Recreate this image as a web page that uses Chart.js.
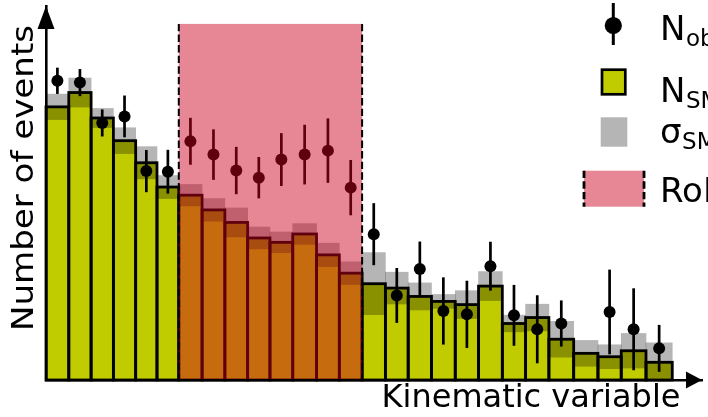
<!DOCTYPE html>
<html>
<head>
<meta charset="utf-8">
<script src="https://cdn.jsdelivr.net/npm/chart.js@4.4.1/dist/chart.umd.min.js"></script>
<style>
  html, body { margin: 0; padding: 0; background: #ffffff; }
  #wrap { position: relative; width: 708px; height: 417px; overflow: hidden; }
</style>
</head>
<body>
<div id="wrap"><canvas id="c" width="708" height="417"></canvas></div>
<script>
// Bin edges of the kinematic variable (27 bins)
const binEdges = [0, 2.3, 4.55, 6.8, 9.05, 11.2, 13.4, 15.75, 18.05, 20.35, 22.6, 24.9, 27.3, 29.6,
                  31.9, 34.25, 36.55, 38.9, 41.3, 43.65, 46.05, 48.4, 50.75, 53.25, 55.7, 58.05, 60.55, 63.2];
// Expected Standard Model yield per bin
const nSM = [137.3, 144.5, 131.7, 120.3, 109.2, 97, 92.9, 85.5, 79.2, 71.4, 69.2, 73.4, 62.9, 53.7,
             48.4, 46.2, 42, 39.5, 37.9, 47.2, 28.4, 31.4, 20.5, 13.4, 11.7, 14.7, 8.9];
// Uncertainty on the SM yield
const sigmaSM = [6.4, 7.3, 4.8, 6.5, 8.1, 5.8, 5.4, 5.7, 7.3, 5.5, 5.2, 5.2, 5.9, 5.7,
                 15.6, 8, 6.8, 3.5, 7, 7.3, 4.2, 6.7, 9, 6.5, 6, 8.7, 9.8];
// Observed counts and their errors (no entry in bin 24)
const nObs = [150.4, 149.5, 129.2, 132.5, 105, 104.7, 120, 113.3, 105.3, 101.7, 110.8, 113.3, 115.3, 96.7,
              73.3, 42.5, 55.8, 34.7, 33, 57.2, 32.5, 25.5, 28.4, null, 34.2, 25.5, 15.9];
const nObsErr = [6.6, 6.8, 6.8, 10.5, 10.6, 11, 11.8, 12.7, 11.9, 10.4, 13.3, 15, 16.2, 13.9,
                 15.6, 13.8, 13.8, 16.9, 16.9, 12.3, 15.3, 17.1, 11.6, null, 21.3, 20.6, 11.8];
// Region of interest along the kinematic variable, and its height
const roiRange = [13.4, 31.9];
const roiTop = 179;
// Axis extents
const xMax = 66.2;
const yMax = 188;

const GREEN = '#c1cc00';
const BAND = 'rgba(0,0,0,0.29)';
const ROI_FILL = 'rgba(205,0,32,0.47)';
const FONT = '"DejaVu Sans", sans-serif';

const centers = nSM.map((_, i) => (binEdges[i] + binEdges[i + 1]) / 2);

// Give every bar the exact width of its bin
const binWidths = {
  id: 'binWidths',
  afterDatasetsUpdate(chart) {
    const xs = chart.scales.x;
    chart.data.datasets.forEach((ds, di) => {
      const meta = chart.getDatasetMeta(di);
      if (meta.type !== 'bar') return;
      meta.data.forEach((el, i) => {
        const l = xs.getPixelForValue(binEdges[i]);
        const r = xs.getPixelForValue(binEdges[i + 1]);
        el.x = (l + r) / 2;
        el.width = r - l;
      });
    });
  }
};

// Black bin outlines after the uncertainty band, error bars before the markers
const histDecor = {
  id: 'histDecor',
  afterDatasetDraw(chart, args) {
    if (args.index !== 1) return;
    const ctx = chart.ctx;
    const meta = chart.getDatasetMeta(0);
    ctx.save();
    ctx.strokeStyle = '#000';
    ctx.lineWidth = 2.8;
    ctx.lineJoin = 'miter';
    meta.data.forEach(el => {
      ctx.strokeRect(el.x - el.width / 2, el.y, el.width, el.base - el.y);
    });
    ctx.restore();
  },
  beforeDatasetDraw(chart, args) {
    if (args.index !== 2) return;
    const ctx = chart.ctx;
    const xs = chart.scales.x, ys = chart.scales.y;
    ctx.save();
    ctx.strokeStyle = '#000';
    ctx.lineWidth = 2.7;
    nObs.forEach((v, i) => {
      if (v === null) return;
      const x = xs.getPixelForValue(centers[i]);
      ctx.beginPath();
      ctx.moveTo(x, ys.getPixelForValue(v + nObsErr[i]));
      ctx.lineTo(x, ys.getPixelForValue(v - nObsErr[i]));
      ctx.stroke();
    });
    ctx.restore();
  },
  afterDatasetsDraw(chart) {
    const ctx = chart.ctx;
    const xs = chart.scales.x, ys = chart.scales.y;
    const l = xs.getPixelForValue(roiRange[0]);
    const r = xs.getPixelForValue(roiRange[1]);
    const t = ys.getPixelForValue(roiTop);
    const b = ys.getPixelForValue(0);
    ctx.save();
    ctx.fillStyle = ROI_FILL;
    ctx.fillRect(l, t, r - l, b - t);
    ctx.strokeStyle = '#000';
    ctx.lineWidth = 2;
    ctx.setLineDash([7.4, 3.2]);
    [l, r].forEach(x => {
      ctx.beginPath();
      ctx.moveTo(x, t);
      ctx.lineTo(x, b);
      ctx.stroke();
    });
    ctx.restore();
  }
};

function fitText(ctx, text, cx, cy, angle, size, targetLen) {
  ctx.save();
  ctx.font = size + 'px ' + FONT;
  const w = ctx.measureText(text).width;
  ctx.translate(cx, cy);
  ctx.rotate(angle);
  ctx.scale(targetLen / w, 1);
  ctx.textAlign = 'center';
  ctx.textBaseline = 'alphabetic';
  ctx.fillStyle = '#000';
  ctx.fillText(text, 0, 0);
  ctx.restore();
}

function labelWithSub(ctx, main, sub, x, y) {
  ctx.font = '34px ' + FONT;
  ctx.textAlign = 'left';
  ctx.textBaseline = 'alphabetic';
  ctx.fillStyle = '#000';
  ctx.fillText(main, x, y);
  const w = ctx.measureText(main).width;
  if (sub) {
    ctx.font = '23px ' + FONT;
    ctx.fillText(sub, x + w + 0.5, y + 6);
  }
}

// Axis arrows, axis titles and the legend
const frame = {
  id: 'frame',
  afterDraw(chart) {
    const ctx = chart.ctx;
    const a = chart.chartArea;
    ctx.save();
    ctx.fillStyle = '#000';
    // arrow heads
    ctx.beginPath();
    ctx.moveTo(a.left, a.top);
    ctx.lineTo(a.left - 8.5, a.top + 23);
    ctx.lineTo(a.left + 8.5, a.top + 23);
    ctx.closePath();
    ctx.fill();
    ctx.beginPath();
    ctx.moveTo(a.right, a.bottom);
    ctx.lineTo(a.right - 16, a.bottom - 8.5);
    ctx.lineTo(a.right - 16, a.bottom + 8.5);
    ctx.closePath();
    ctx.fill();

    // axis titles
    fitText(ctx, 'Number of events', 33, 178, -Math.PI / 2, 30, 306);
    ctx.font = '32px ' + FONT;
    ctx.textAlign = 'center';
    ctx.textBaseline = 'alphabetic';
    ctx.fillText('Kinematic variable', 531, 407);

    // legend: observed
    ctx.strokeStyle = '#000';
    ctx.lineWidth = 3;
    ctx.beginPath();
    ctx.moveTo(613.3, 3);
    ctx.lineTo(613.3, 45);
    ctx.stroke();
    ctx.beginPath();
    ctx.arc(613.3, 25.5, 8.6, 0, Math.PI * 2);
    ctx.fill();
    labelWithSub(ctx, 'N', 'obs', 660, 40);

    // legend: SM expectation
    ctx.fillStyle = GREEN;
    ctx.fillRect(602, 69.7, 23.3, 24.6);
    ctx.strokeStyle = '#000';
    ctx.lineWidth = 2.7;
    ctx.strokeRect(602, 69.7, 23.3, 24.6);
    labelWithSub(ctx, 'N', 'SM', 660, 101.7);

    // legend: SM uncertainty
    ctx.fillStyle = '#b5b5b5';
    ctx.fillRect(600.7, 117.3, 26.6, 29.4);
    labelWithSub(ctx, 'σ', 'SM', 660, 143.3);

    // legend: region of interest
    ctx.fillStyle = ROI_FILL;
    ctx.fillRect(584, 170.7, 60, 36);
    ctx.strokeStyle = '#000';
    ctx.lineWidth = 2.8;
    ctx.setLineDash([7.4, 3.2]);
    [584, 644].forEach(x => {
      ctx.beginPath();
      ctx.moveTo(x, 170.7);
      ctx.lineTo(x, 206.7);
      ctx.stroke();
    });
    ctx.setLineDash([]);
    labelWithSub(ctx, 'RoI', null, 660, 201.7);
    ctx.restore();
  }
};

new Chart(document.getElementById('c'), {
  type: 'bar',
  data: {
    datasets: [
      {
        type: 'bar',
        label: 'N_SM',
        data: centers.map((x, i) => ({ x, y: nSM[i] })),
        backgroundColor: GREEN,
        borderWidth: 0,
        grouped: false,
        barThickness: 'flex',
        barPercentage: 1,
        categoryPercentage: 1,
        order: 3
      },
      {
        type: 'bar',
        label: 'σ_SM',
        data: centers.map((x, i) => ({ x, y: [nSM[i] - sigmaSM[i], nSM[i] + sigmaSM[i]] })),
        backgroundColor: BAND,
        borderWidth: 0,
        grouped: false,
        barThickness: 'flex',
        barPercentage: 1,
        categoryPercentage: 1,
        order: 2
      },
      {
        type: 'line',
        label: 'N_obs',
        data: centers.map((x, i) => ({ x, y: nObs[i] })),
        showLine: false,
        pointRadius: 6,
        pointBackgroundColor: '#000',
        pointBorderWidth: 0,
        order: 1
      }
    ]
  },
  options: {
    responsive: false,
    animation: false,
    events: [],
    layout: { padding: { left: 46, right: 0, top: 4, bottom: 37 } },
    plugins: { legend: { display: false }, tooltip: { enabled: false } },
    scales: {
      x: {
        type: 'linear', min: 0, max: xMax, offset: false,
        grid: { display: false, drawTicks: false },
        ticks: { display: false },
        border: { display: true, color: '#000', width: 2.6, z: 1 }
      },
      y: {
        type: 'linear', min: 0, max: yMax,
        grid: { display: false, drawTicks: false },
        ticks: { display: false },
        border: { display: true, color: '#000', width: 2.6, z: 1 }
      }
    }
  },
  plugins: [binWidths, histDecor, frame]
});
</script>
</body>
</html>
